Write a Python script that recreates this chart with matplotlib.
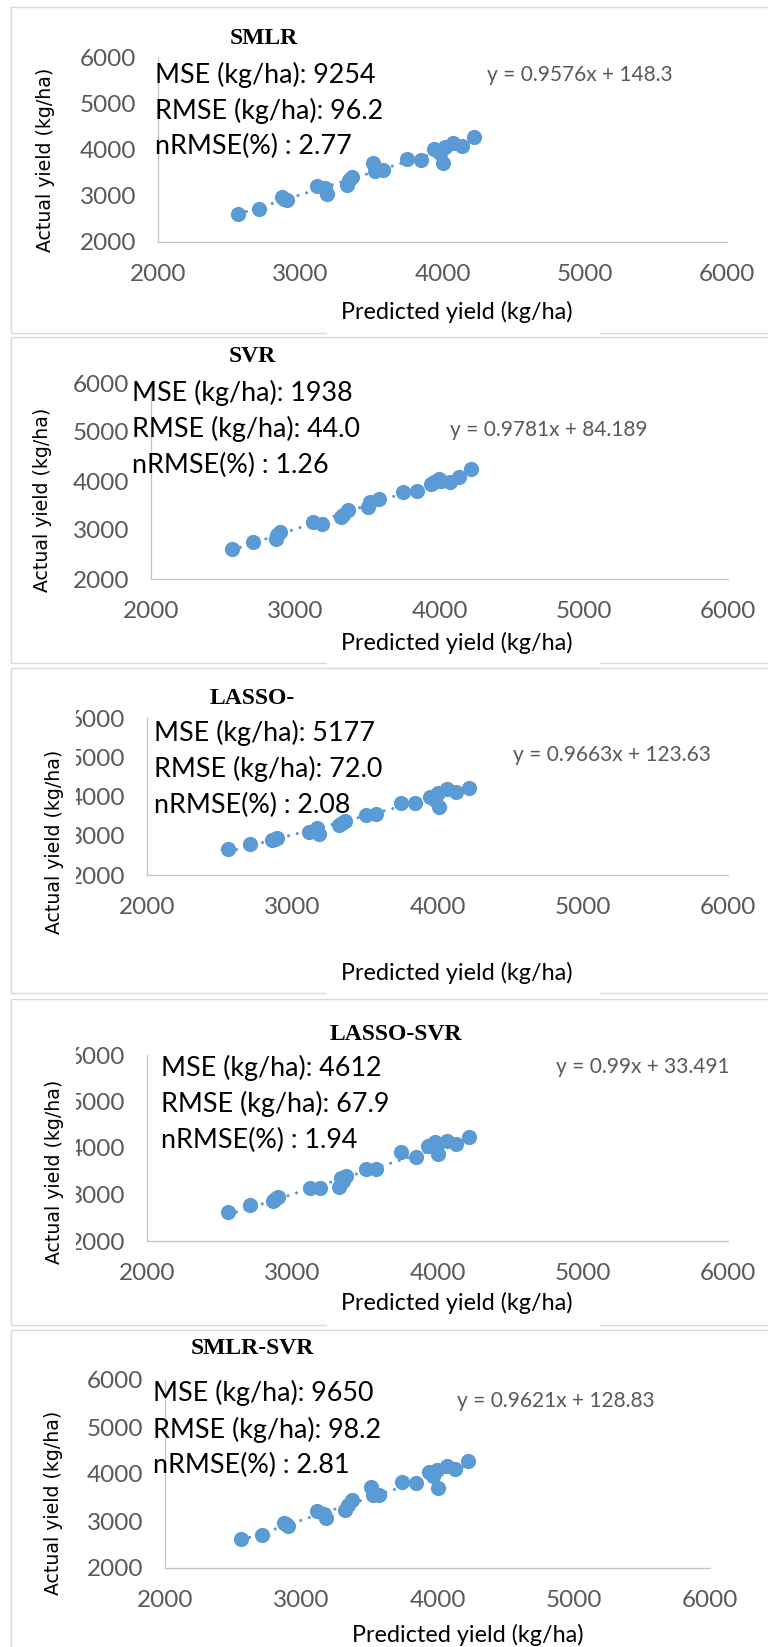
import matplotlib
matplotlib.use("Agg")
import matplotlib.pyplot as plt
from matplotlib.patches import Rectangle
from matplotlib.transforms import Bbox

# chart values
models = ["SMLR", "SVR", "LASSO-", "LASSO-SVR", "SMLR-SVR"]
mse = ["9254", "1938", "5177", "4612", "9650"]
rmse = ["96.2", "44.0", "72.0", "67.9", "98.2"]
nrmse = ["2.77", "1.26", "2.08", "1.94", "2.81"]
slopes = [0.9576, 0.9781, 0.9663, 0.99, 0.9621]
intercepts = [148.3, 84.189, 123.63, 33.491, 128.83]

pred_smlr = [2562, 2712, 2870, 2886, 2905, 3120, 3174, 3190, 3326, 3340, 3366, 3508,
             3524, 3585, 3748, 3852, 3938, 3965, 3982, 4006, 4018, 4075, 4138, 4223]
act_smlr = [2612, 2707, 2966, 2925, 2908, 3220, 3160, 3040, 3240, 3340, 3412, 3701,
            3540, 3550, 3788, 3765, 4004, 3960, 3918, 3701, 4060, 4134, 4068, 4277]

pred_svr = [2560, 2710, 2866, 2875, 2894, 3122, 3185, 3320, 3330, 3366, 3506, 3516,
            3580, 3746, 3847, 3941, 3965, 3998, 4008, 4070, 4134, 4219]
act_svr = [2606, 2762, 2820, 2890, 2960, 3160, 3122, 3260, 3306, 3400, 3476, 3570,
           3626, 3783, 3800, 3945, 3975, 4034, 4006, 3986, 4088, 4238]

pred_lasso = [2556, 2708, 2862, 2880, 2893, 3112, 3173, 3186, 3321, 3340, 3365, 3510,
              3577, 3746, 3847, 3948, 3985, 4006, 4012, 4063, 4130, 4218]
act_lasso = [2655, 2782, 2880, 2910, 2935, 3104, 3206, 3045, 3274, 3330, 3376, 3529,
             3554, 3843, 3843, 3996, 3920, 4081, 3740, 4183, 4123, 4225]

pred_lsvr = [2558, 2708, 2866, 2880, 2904, 3120, 3188, 3321, 3336, 3352, 3368, 3511,
             3579, 3748, 3849, 3938, 3985, 3999, 4006, 4063, 4130, 4218]
act_lsvr = [2613, 2774, 2870, 2910, 2953, 3140, 3140, 3168, 3361, 3300, 3400, 3545,
            3545, 3905, 3805, 4040, 4135, 4092, 3880, 4157, 4092, 4228]

pred_ssvr = [2558, 2712, 2873, 2890, 2903, 3118, 3170, 3179, 3323, 3345, 3370, 3513,
             3528, 3574, 3743, 3844, 3941, 3965, 3998, 4006, 4067, 4131, 4222]
act_ssvr = [2611, 2702, 2951, 2930, 2894, 3219, 3150, 3057, 3234, 3340, 3447, 3730,
            3553, 3553, 3837, 3815, 4049, 3950, 4085, 3696, 4170, 4099, 4276]

preds = [pred_smlr, pred_svr, pred_lasso, pred_lsvr, pred_ssvr]
acts = [act_smlr, act_svr, act_lasso, act_lsvr, act_ssvr]
ticks = [2000, 3000, 4000, 5000, 6000]

# layout of each pasted panel, in pixels of the 768x1647 picture
layout = [
    dict(top=7, bottom=333, ax=(158, 727, 57, 242), title=(264, 39), stat=(155, (75, 111, 146)),
         eq=(487, 75), xlab=(457, 312), ylab=(46, 160), clip=None),
    dict(top=337, bottom=663, ax=(151, 728, 383, 579), title=(252, 357), stat=(132, (393, 429, 465)),
         eq=(450, 430), xlab=(457, 643), ylab=(43, 500), clip=None),
    dict(top=668, bottom=993, ax=(147, 728, 718, 875), title=(252, 699), stat=(154, (733, 769, 805)),
         eq=(513, 755), xlab=(457, 973), ylab=(55, 842), clip=76),
    dict(top=999, bottom=1325, ax=(147, 728, 1055, 1241), title=(396, 1035), stat=(161, (1068, 1104, 1140)),
         eq=(556, 1067), xlab=(457, 1303), ylab=(55, 1172), clip=76),
    dict(top=1330, bottom=None, ax=(165, 710, 1380, 1568), title=(252, 1349), stat=(153, (1393, 1430, 1465)),
         eq=(457, 1401), xlab=(468, 1635), ylab=(54, 1503), clip=None),
]

W, H = 768, 1647
BLUE = "#5B9BD5"
GREY_TXT = "#595959"
SANS = ["Lato", "DejaVu Sans"]


def fx(px):
    return px / W


def fy(py):
    return 1 - py / H


fig = plt.figure(figsize=(W / 100, H / 100), dpi=100)
fig.patch.set_facecolor("white")

for i, lay in enumerate(layout):
    # panel frame (right edge falls outside the picture)
    bot = lay["bottom"] if lay["bottom"] is not None else H + 10
    fig.add_artist(Rectangle((fx(11), fy(bot)), fx(800), (bot - lay["top"]) / H,
                             transform=fig.transFigure, fill=False, edgecolor="#d9d9d9",
                             linewidth=1.0, zorder=0))
    if lay["bottom"] is not None:
        # the x label box hides part of the frame's bottom edge
        fig.add_artist(Rectangle((fx(327), fy(bot + 2)), fx(273), 5 / H,
                                 transform=fig.transFigure, facecolor="white",
                                 edgecolor="none", zorder=1))

    l, r, t, b = lay["ax"]
    ax = fig.add_axes([fx(l), fy(b), (r - l) / W, (b - t) / H])
    ax.set_facecolor("none")
    ax.set_xlim(2000, 6000)
    ax.set_ylim(2000, 6000)
    ax.set_xticks(ticks)
    ax.set_yticks(ticks)
    for s in ["top", "right"]:
        ax.spines[s].set_visible(False)
    for s in ["left", "bottom"]:
        ax.spines[s].set_color("#c4c4c4")
        ax.spines[s].set_linewidth(0.9)
    ax.tick_params(length=0, labelsize=17.5, labelcolor=GREY_TXT)
    ax.tick_params(axis="x", pad=15.5)
    ax.tick_params(axis="y", pad=15.5)
    for lbl in ax.get_xticklabels() + ax.get_yticklabels():
        lbl.set_family(SANS)

    x = preds[i]
    y = acts[i]
    ax.scatter(x, y, s=120, color=BLUE, linewidths=0, zorder=4, clip_on=False)
    x0, x1 = min(x), max(x)
    ax.plot([x0, x1], [slopes[i] * x0 + intercepts[i], slopes[i] * x1 + intercepts[i]],
            color=BLUE, linewidth=2.3, linestyle=(0, (0.01, 2.8)), dash_capstyle="round",
            zorder=3)

    if lay["clip"] is not None:
        # tick labels cut off at the left in these two panels
        box = Bbox.from_extents(lay["clip"], 0, W + 50, H + 50)
        for tk in ax.yaxis.get_major_ticks():
            tk.label1.set_clip_on(True)
            tk.label1.set_clip_box(box)

    # texts
    fig.text(fx(lay["title"][0]), fy(lay["title"][1]), models[i], ha="center", va="center",
             fontsize=17, fontweight="bold", family=["Liberation Serif", "DejaVu Serif"])
    sx, sys_ = lay["stat"]
    lines = [f"MSE (kg/ha): {mse[i]}", f"RMSE (kg/ha): {rmse[i]}", f"nRMSE(%) : {nrmse[i]}"]
    for txt, yy in zip(lines, sys_):
        fig.text(fx(sx), fy(yy), txt, ha="left", va="center", fontsize=19.4,
                 family=SANS, color="black", zorder=2)
    fig.text(fx(lay["eq"][0]), fy(lay["eq"][1]), f"y = {slopes[i]}x + {intercepts[i]}",
             ha="left", va="center", fontsize=15, family=SANS, color=GREY_TXT)
    fig.text(fx(lay["xlab"][0]), fy(lay["xlab"][1]), "Predicted yield (kg/ha)",
             ha="center", va="center", fontsize=16.8, family=SANS, color="black", zorder=3)
    fig.text(fx(lay["ylab"][0]), fy(lay["ylab"][1]), "Actual yield (kg/ha)",
             ha="center", va="center", rotation=90, fontsize=13.6,
             family=["DejaVu Sans"], color="black")

fig.savefig("out.png", dpi=100, facecolor="white")
